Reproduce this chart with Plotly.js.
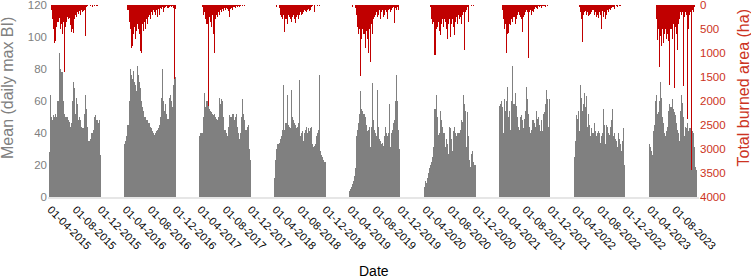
<!DOCTYPE html>
<html>
<head>
<meta charset="utf-8">
<script src="https://cdn.plot.ly/plotly-3.0.1.min.js"></script>
<style>html,body{margin:0;padding:0;background:#fff;}#chart{width:751px;height:279px;}</style>
</head>
<body>
<div id="chart"></div>
<script>
// Season start dates (each season is a run of 5-day bins)
const seasonStarts = ['2015-03-25','2016-03-25','2017-03-25','2018-03-25','2019-03-25','2020-03-25','2021-03-25','2022-03-25','2023-03-25'];
const binDays = 5;

// Mean (daily max BI), one value per 5-day bin
const bi2015 = [28,64,50,48,51,50,52,50,60,90,80,78,78,60,52,50,50,50,48,47,44,46,60,72,68,52,62,58,48,50,48,44,43,43,52,64,55,44,35,35,36,40,40,42,50,51,48,46,48,26];
const bi2016 = [33,35,38,45,60,80,76,74,79,72,70,66,82,76,72,68,60,56,54,50,50,48,48,46,46,44,43,41,40,39,40,41,42,43,45,50,62,80,60,54,58,52,49,62,64,60,56,70,81,75];
const bi2017 = [38,40,40,40,50,65,56,60,58,55,54,53,52,51,52,50,49,48,50,62,58,61,60,50,42,42,40,38,44,51,50,50,52,52,48,50,52,44,40,36,40,50,61,52,48,42,44,45,30,23];
const bi2018 = [12,23,30,33,33,34,36,38,42,70,42,46,64,45,44,43,67,50,48,46,45,43,44,46,73,38,40,41,35,40,42,44,40,43,41,43,44,33,31,32,33,38,40,42,76,29,26,25,23,22];
const bi2019 = [4,5,6,8,10,13,18,38,42,46,52,66,55,54,52,50,45,41,42,44,31,44,71,48,42,40,38,67,44,36,35,33,34,32,38,44,40,38,40,58,31,40,42,46,48,60,76,60,42,30];
const bi2020 = [6,10,9,12,15,18,20,22,25,31,55,64,50,39,40,54,48,44,40,40,31,36,33,27,44,43,36,29,41,44,40,38,40,40,40,42,48,47,64,58,54,31,53,38,23,19,27,29,22,20];
const bi2021 = [57,58,60,56,40,61,54,60,69,50,54,42,60,82,58,65,57,50,44,42,50,51,48,43,49,54,69,61,52,44,40,42,48,48,46,44,54,49,50,45,41,48,41,52,53,58,67,61,44,61];
const bi2022 = [25,35,51,49,54,41,70,62,54,58,65,56,63,44,52,45,38,43,40,46,41,38,40,41,40,34,38,40,55,45,33,45,44,40,39,44,48,55,38,40,36,35,31,40,36,33,29,35,43,20];
const bi2023 = [33,31,29,26,41,45,60,64,52,53,60,72,62,50,46,40,38,41,44,54,58,56,61,55,53,51,46,42,40,35,54,64,59,50,38,44,43,46,41,43,43,44,41,40,31,19,17];

// Total burned area (ha), one value per 5-day bin
const ba2015 = [0,0,100,300,500,800,750,450,350,280,500,400,600,350,1400,450,350,250,300,280,420,560,500,580,300,200,260,150,180,120,200,100,150,120,100,650,50,30,0,0,30,0,40,0,30,0,25,0,0,0];
const ba2016 = [0,0,0,100,350,500,900,850,600,450,700,550,400,500,600,950,1000,400,550,350,500,300,400,250,200,300,150,200,100,150,200,100,250,80,200,60,80,50,150,60,40,30,60,40,20,50,30,60,1550,80];
const ba2017 = [0,0,0,50,200,150,300,400,2100,250,350,450,200,600,1000,300,200,250,150,200,100,150,80,120,60,100,60,80,120,250,80,60,100,50,40,60,30,50,20,40,20,0,30,0,20,0,0,0,0,0];
const ba2018 = [0,0,40,0,0,60,200,250,300,200,560,300,400,200,250,300,350,250,200,300,380,250,200,300,200,150,200,180,150,100,120,150,100,80,120,100,50,30,0,140,0,0,20,0,30,0,0,0,0,0];
const ba2019 = [0,0,0,40,0,0,60,200,450,600,500,1480,700,500,600,900,550,700,1010,500,1180,400,600,300,250,200,150,250,200,100,300,150,100,250,200,100,150,300,100,80,150,100,60,50,380,60,100,50,100,0];
const ba2020 = [0,0,0,0,0,0,50,300,400,350,1045,500,450,350,550,625,400,300,450,300,350,500,700,400,300,660,400,300,450,630,350,250,400,200,300,250,400,200,150,940,150,100,50,350,0,0,30,0,30,0];
const ba2021 = [0,0,0,100,300,500,400,1010,600,590,400,420,300,350,250,400,300,200,150,200,250,300,560,250,200,150,100,150,1110,150,100,200,120,150,80,50,60,80,30,50,30,60,20,30,20,40,0,20,0,0];
const ba2022 = [0,0,0,0,0,40,150,300,770,200,150,120,200,150,220,200,180,150,100,200,150,250,200,280,150,200,500,120,250,150,300,200,100,150,80,100,60,50,40,80,0,30,50,0,20,30,0,0,0,0];
const ba2023 = [0,0,0,0,0,0,0,300,730,500,1290,650,850,500,800,600,500,700,600,750,1670,500,700,400,1720,450,600,940,400,300,150,200,150,1690,250,150,200,2370,500,200,150,3440,100,150,50,0,0];

// Axis ticks
const xTickVals = ['2015-04-01','2015-08-01','2015-12-01','2016-04-01','2016-08-01','2016-12-01','2017-04-01','2017-08-01','2017-12-01','2018-04-01','2018-08-01','2018-12-01','2019-04-01','2019-08-01','2019-12-01','2020-04-01','2020-08-01','2020-12-01','2021-04-01','2021-08-01','2021-12-01','2022-04-01','2022-08-01','2022-12-01','2023-04-01','2023-08-01'];
const xTickText = ['01-04-2015','01-08-2015','01-12-2015','01-04-2016','01-08-2016','01-12-2016','01-04-2017','01-08-2017','01-12-2017','01-04-2018','01-08-2018','01-12-2018','01-04-2019','01-08-2019','01-12-2019','01-04-2020','01-08-2020','01-12-2020','01-04-2021','01-08-2021','01-12-2021','01-04-2022','01-08-2022','01-12-2022','01-04-2023','01-08-2023'];
const yTickVals = [0,20,40,60,80,100,120];
const y2TickVals = [0,500,1000,1500,2000,2500,3000,3500,4000];

const biSeasons = [bi2015,bi2016,bi2017,bi2018,bi2019,bi2020,bi2021,bi2022,bi2023];
const baSeasons = [ba2015,ba2016,ba2017,ba2018,ba2019,ba2020,ba2021,ba2022,ba2023];

const DAY = 86400000;
function binDates(start, n){
  const t0 = new Date(start + 'T00:00:00Z').getTime();
  const out = [];
  for(let i=0;i<n;i++){ out.push(new Date(t0 + i*binDays*DAY).toISOString().slice(0,10)); }
  return out;
}
const xBI=[], yBI=[], xBA=[], yBA=[];
seasonStarts.forEach((s,k)=>{
  const d1 = binDates(s, biSeasons[k].length);
  d1.forEach((d,i)=>{ xBI.push(d); yBI.push(biSeasons[k][i]); });
  const d2 = binDates(s, baSeasons[k].length);
  d2.forEach((d,i)=>{ xBA.push(d); yBA.push(baSeasons[k][i]); });
});

const FONT = 'Liberation Sans, Arial, Helvetica, sans-serif';
const GRAY = '#808080';
const RED_BAR = '#c00000';
const RED_TXT = '#cc3322';

const traces = [
  {type:'bar', x:xBI, y:yBI, width:binDays*DAY, offset:0, marker:{color:GRAY, line:{width:0}}, yaxis:'y', name:'Mean (daily max BI)', hoverinfo:'x+y'},
  {type:'bar', x:xBA, y:yBA, width:binDays*DAY, offset:0, marker:{color:RED_BAR, line:{width:0}}, yaxis:'y2', name:'Total burned area (ha)', hoverinfo:'x+y'}
];

const layout = {
  width:751, height:279,
  margin:{l:48, r:52, t:5, b:82, pad:0},
  paper_bgcolor:'#ffffff', plot_bgcolor:'#ffffff',
  showlegend:false,
  barmode:'overlay', bargap:0,
  font:{family:FONT, size:11, color:'#000'},
  xaxis:{
    type:'date', range:['2015-03-18 18:00','2023-11-24 00:00'],
    tickmode:'array', tickvals:xTickVals, ticktext:xTickText, tickangle:45,
    tickfont:{family:FONT, size:11, color:'#000'},
    showgrid:false, zeroline:false, ticks:'',
    showline:true, linecolor:'#e6e6e6', linewidth:2
  },
  yaxis:{
    range:[0,120], tickmode:'array', tickvals:yTickVals,
    tickfont:{family:FONT, size:11.5, color:GRAY}, ticklabeloverflow:'allow',
    showgrid:false, zeroline:false, ticks:'', showline:false
  },
  yaxis2:{
    overlaying:'y', side:'right', range:[4000,0], tickmode:'array', tickvals:y2TickVals,
    tickfont:{family:FONT, size:11.5, color:RED_TXT}, ticklabeloverflow:'allow',
    showgrid:false, zeroline:false, ticks:'', showline:false
  },
  annotations:[
    {text:'Mean (daily max BI)', xref:'paper', yref:'paper', x:-0.0614, y:0.568, textangle:-90, showarrow:false, xanchor:'center', yanchor:'middle', font:{family:FONT, size:16, color:GRAY}},
    {text:'Total burned area (ha)', xref:'paper', yref:'paper', x:1.0684, y:0.568, textangle:-90, showarrow:false, xanchor:'center', yanchor:'middle', font:{family:FONT, size:16, color:RED_TXT}},
    {text:'Date', xref:'paper', yref:'paper', x:0.5, y:-0.385, showarrow:false, xanchor:'center', yanchor:'middle', font:{family:FONT, size:14, color:'#000'}}
  ]
};

Plotly.newPlot('chart', traces, layout, {displayModeBar:false, staticPlot:true});
</script>
</body>
</html>
